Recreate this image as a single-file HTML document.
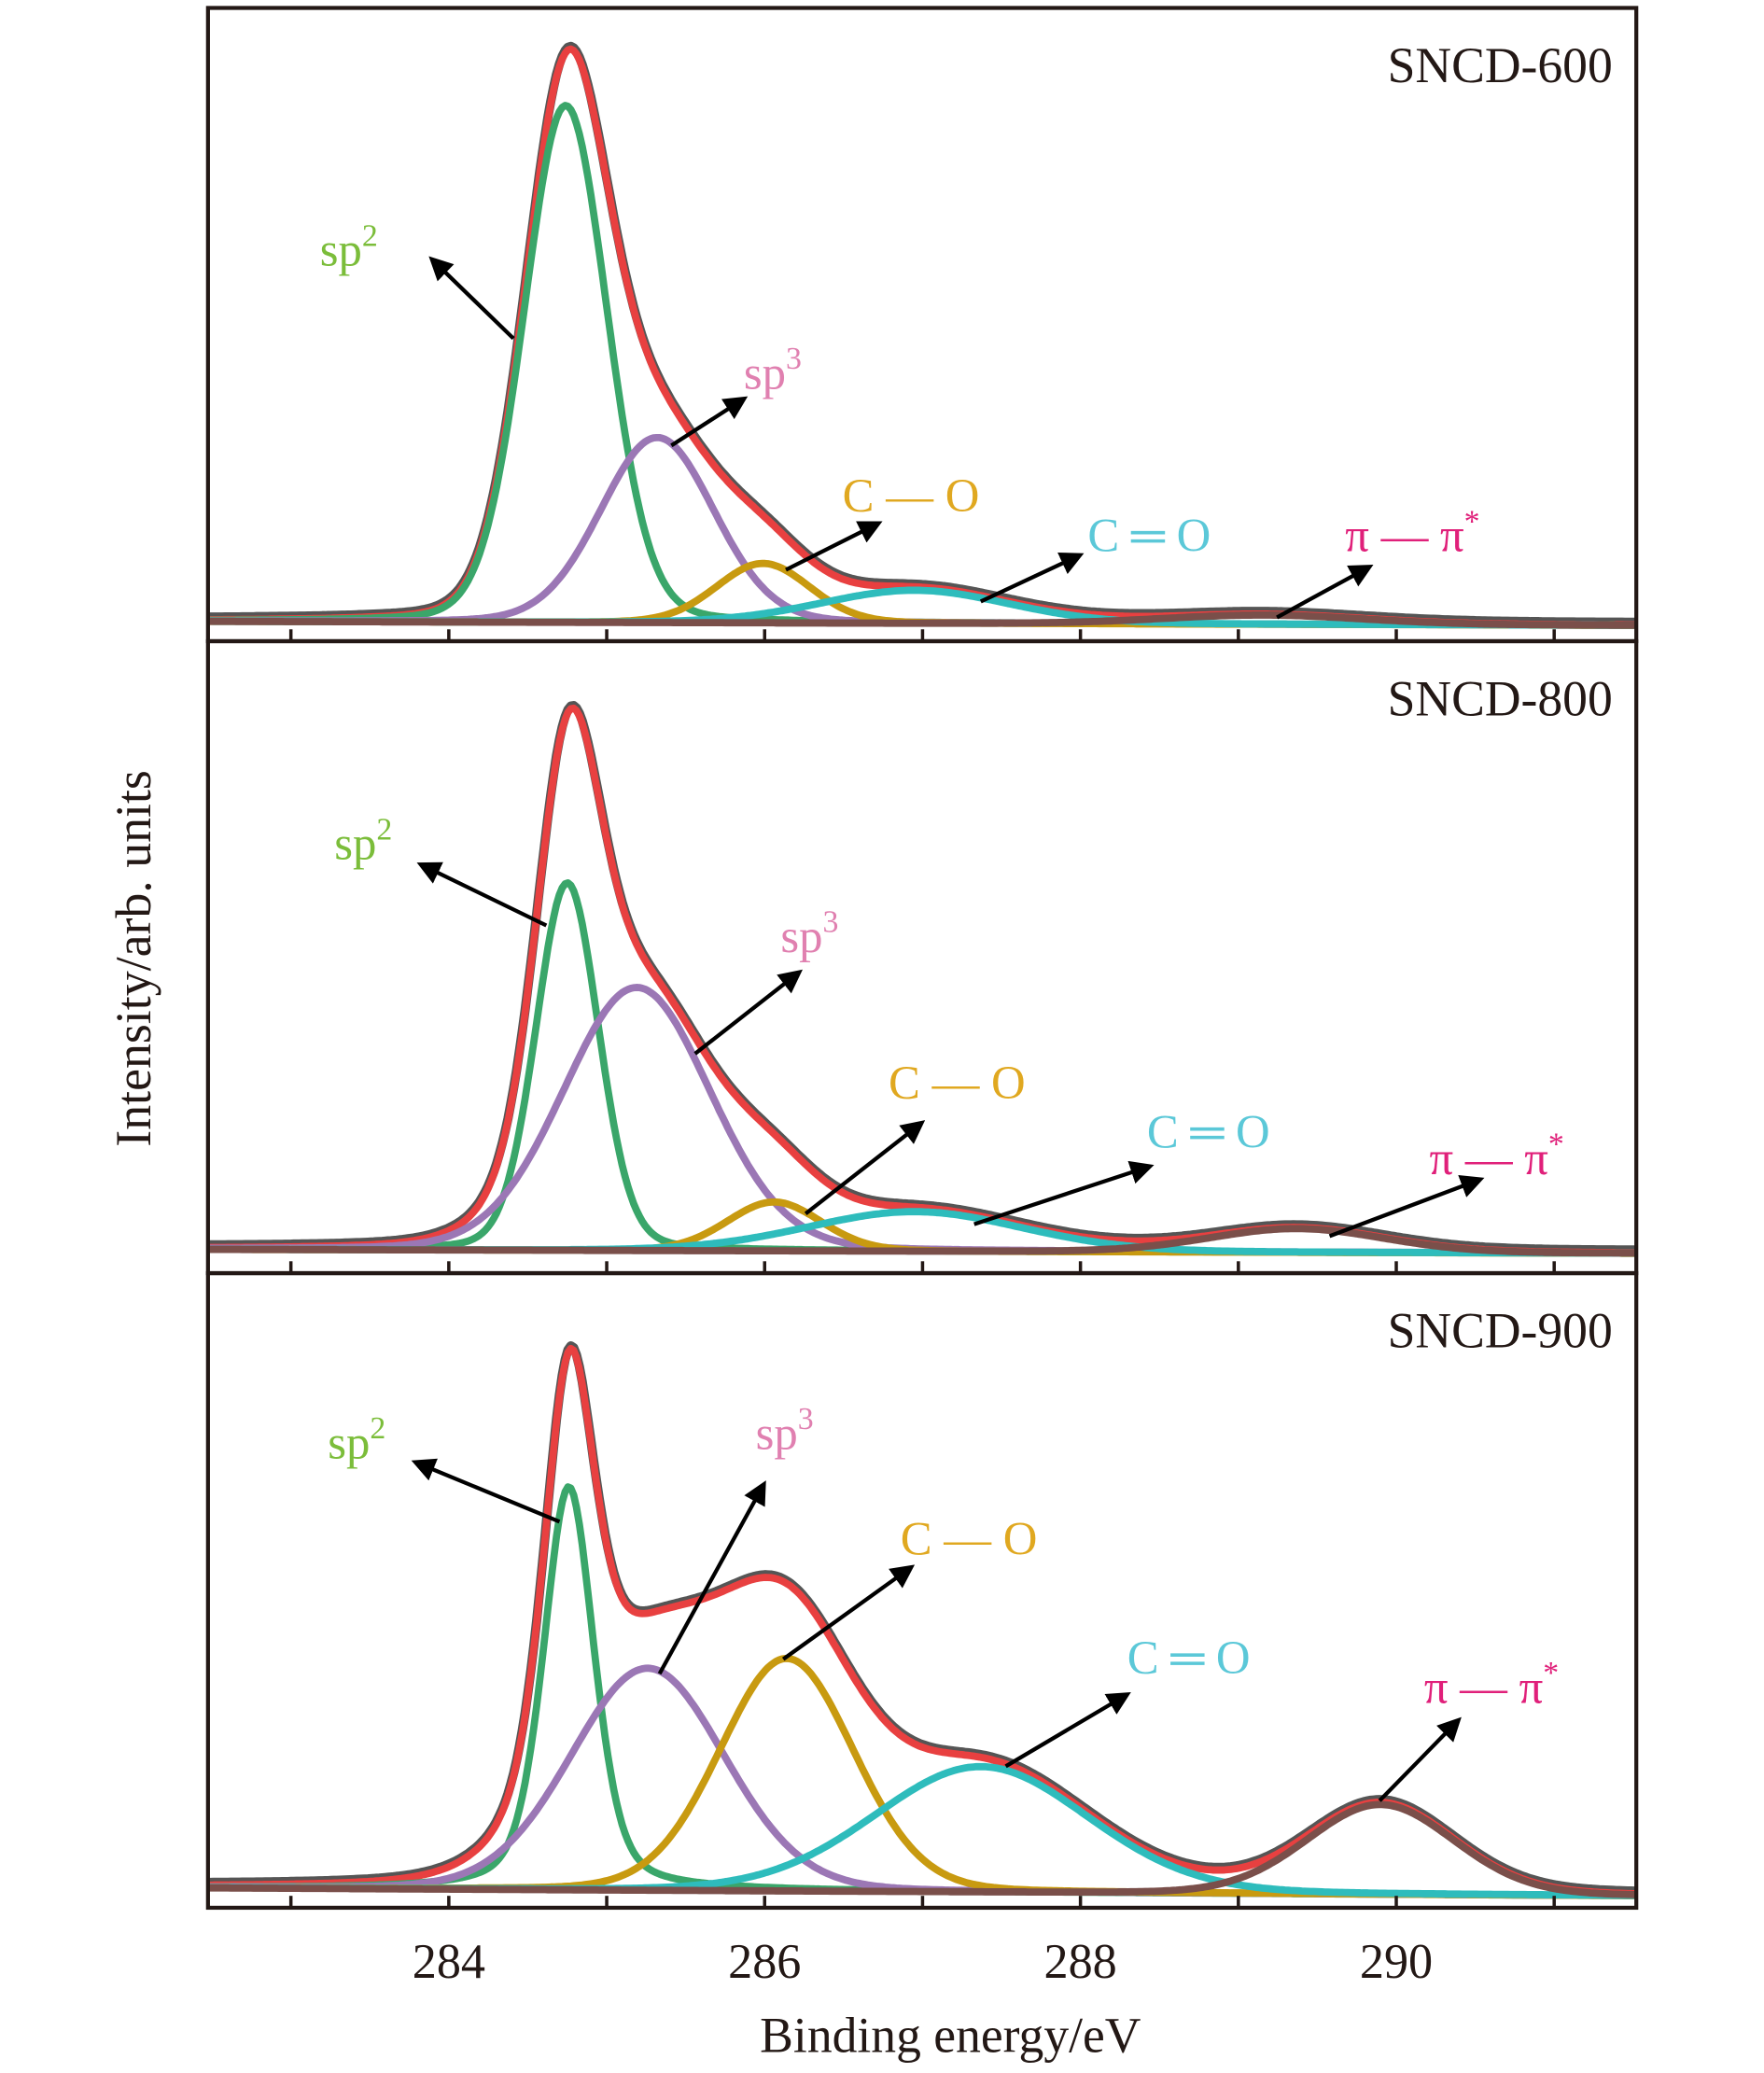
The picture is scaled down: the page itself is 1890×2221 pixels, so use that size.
<!DOCTYPE html>
<html><head><meta charset="utf-8"><style>
html,body{margin:0;padding:0;background:#fff}
svg{display:block}
text{font-family:"Liberation Serif",serif}
</style></head><body>
<svg id="chart" width="1890" height="2221" viewBox="0 0 1340 1568" preserveAspectRatio="none" xmlns="http://www.w3.org/2000/svg">
<defs><marker id="ah" markerWidth="6" markerHeight="6" refX="4" refY="3" orient="auto" markerUnits="strokeWidth"><path d="M0,0 L6,3 L0,6 z" fill="#000"/></marker></defs>
<g id="plots"></g>
<text x="722" y="1552" font-size="38" text-anchor="middle" fill="#231815">Binding energy/eV</text>
<text transform="translate(114,725) rotate(-90)" font-size="38" text-anchor="middle" fill="#231815">Intensity/arb. units</text>
</svg>
<script>
const NS='http://www.w3.org/2000/svg';
const sampleNames=['SNCD-600','SNCD-800','SNCD-900'];
const componentNames=['sp2','sp3','C-O','C=O','pi-pi'];
const centers=[[284.74,285.32,285.99,286.95,289.16],[284.75,285.19,286.06,286.95,289.37],[284.76,285.26,286.14,287.37,289.9]];
const heights=[[391,140,45,25,7],[278,199,37,30,18],[305,168,176,95,68]];
const fwhms=[[0.62,0.85,0.7,1.4,1.5],[0.47,1.1,0.7,1.6,1.3],[0.38,1.15,1.0,1.6,1.1]];
const lorentzFractions=[[0.12,0.1,0.1,0.1,0.1],[0.15,0.1,0.1,0.1,0.1],[0.4,0.1,0.1,0.1,0.1]];
const bgLeft=[3,3,2];
const bgRight=[0,0,-4];
const xTicks=[283,284,285,286,287,288,289,290,291];
const xTickLabels=['284','286','288','290'];
const colors=['#3aa66a','#9b77b5','#c89a10','#2ebcbc','#7a4f4a'];
const labelColors=['#7bbd3a','#e080b0','#e0a820','#5bc8d8','#e0207a'];
const labelText=[['sp','2'],['sp','3'],['C — O'],['C ═ O'],['π — π','*']];
const labelPos=[[[265,190],[587,283],[692,376],[873,406],[1073,406]],[[276,639],[615,709],[727,820],[918,857],[1137,877]],[[271,1092],[596,1085],[736,1165],[903,1255],[1133,1277]]];
const arrows=[[[390,256,330,198],[510,337,563,303],[597,431,665,397],[745,455,818,421],[970,467,1038,430]],[[415,700,322,655],[528,797,605,737],[612,918,698,851],[740,926,871,883],[1010,935,1122,893]],[[425,1151,318,1107],[501,1266,579,1125],[595,1255,690,1187],[764,1336,854,1283],[1048,1362,1106,1303]]];
const panels=[[6,485,473],[485,963,948],[963,1443,1430]];
const X0=282.475,X1=291.52,L=158,R=1243;
const xs=v=>L+(v-X0)/(X1-X0)*(R-L);
const root=document.getElementById('plots');
function mk(tag,attrs,parent){const e=document.createElementNS(NS,tag);for(const k in attrs)e.setAttribute(k,attrs[k]);(parent||root).appendChild(e);return e;}
function pv(x,c,h,w,eta){const s=w/2.3548;const g=Math.exp(-(x-c)*(x-c)/(2*s*s));const l=1/(1+Math.pow((x-c)/(w/2),2));return h*((1-eta)*g+eta*l);}
for(let p=0;p<3;p++){
  const [top,bot,base]=panels[p];
  const g=mk('g',{});
  
  
  const ys=v=>base-v;
  const bg=x=>bgLeft[p]+(bgRight[p]-bgLeft[p])*(x-X0)/(X1-X0);
  const comp=(x,k)=>pv(x,centers[p][k],heights[p][k],fwhms[p][k],lorentzFractions[p][k]);
  const N=500;const pts=[];for(let i=0;i<=N;i++)pts.push(X0+(X1-X0)*i/N);
  const path=f=>pts.map((x,i)=>(i?'L':'M')+xs(x).toFixed(1)+','+ys(f(x)).toFixed(1)).join('');
  const env=x=>{let s=bg(x);for(let k=0;k<5;k++)s+=comp(x,k);return s;};
  const clip='clip'+p;
  const cp=mk('clipPath',{id:clip},g);mk('rect',{x:L,y:top,width:R-L,height:bot-top},cp);
  const dg=mk('g',{'clip-path':'url(#'+clip+')'},g);
  const d=mk('path',{d:path(x=>env(x)+2),fill:'none',stroke:'#555','stroke-width':7,'stroke-linejoin':'round'},dg);
  
  
  const e=mk('path',{d:path(env),fill:'none',stroke:'#e84040','stroke-width':5.5,'stroke-linejoin':'round'},dg);
  
  
  for(let k=0;k<5;k++){
    const c=mk('path',{d:path(x=>bg(x)+comp(x,k)),fill:'none',stroke:colors[k],'stroke-width':5.5,'stroke-linejoin':'round'},dg);
    
    
  }
  const fr=mk('rect',{x:L,y:top,width:R-L,height:bot-top,fill:'none',stroke:'#231815','stroke-width':3},g);
  
  
  xTicks.forEach(t=>{const tk=mk('line',{x1:xs(t),x2:xs(t),y1:bot,y2:bot-9,stroke:'#231815','stroke-width':2.5},g);
    
    });
  const st=mk('text',{x:1225,y:top+56,'font-size':38,'text-anchor':'end',fill:'#231815'},g);
  st.textContent=sampleNames[p];
  
  
  for(let k=0;k<5;k++){
    const [x,y]=labelPos[p][k];
    const t=mk('text',{x:x,y:y+11,'font-size':36,'text-anchor':'middle',fill:labelColors[k]},g);
    
    
    t.appendChild(document.createTextNode(labelText[k][0]));
    if(labelText[k][1]){const s=mk('tspan',{'font-size':24,dy:-15},t);s.textContent=labelText[k][1];}
    const a=arrows[p][k];
    const ar=mk('line',{x1:a[0],y1:a[1],x2:a[2],y2:a[3],stroke:'#000','stroke-width':3,'marker-end':'url(#ah)'},g);
    
    
  }
}
xTickLabels.forEach(t=>{const tl=mk('text',{x:xs(+t),y:1496,'font-size':37,'text-anchor':'middle',fill:'#231815'});
  tl.textContent=t;
  
  });
</script>
</body></html>
